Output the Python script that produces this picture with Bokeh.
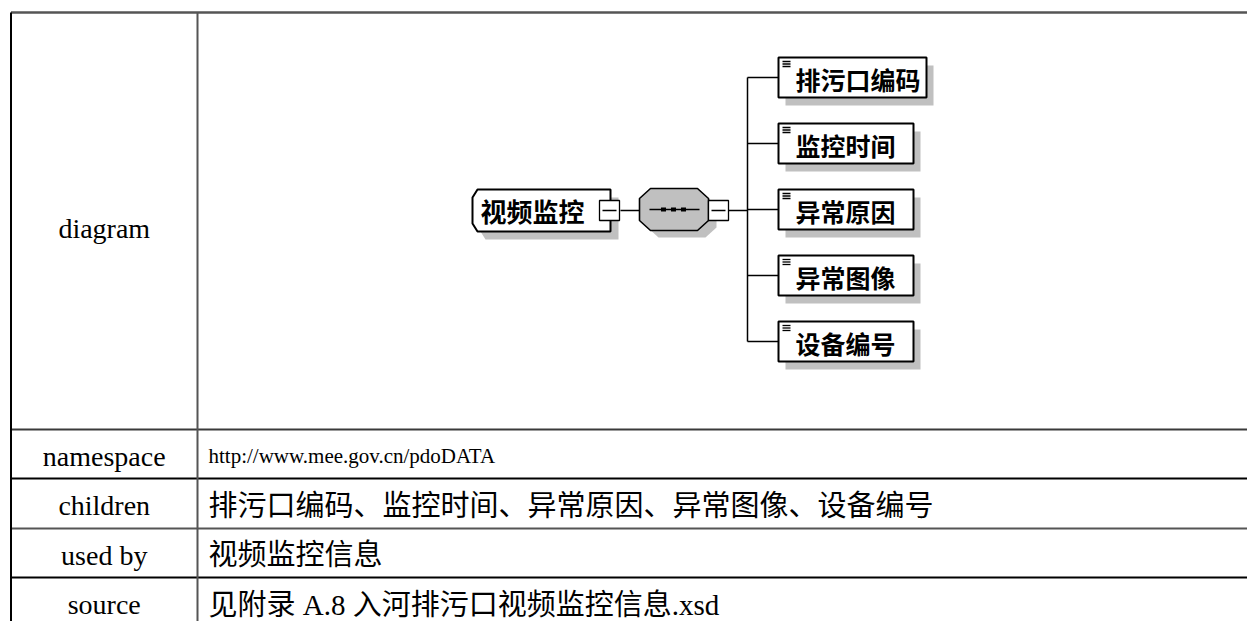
from bokeh.plotting import figure
from bokeh.models import Range1d
from bokeh.core.properties import value
from bokeh.embed import file_html
from bokeh.resources import INLINE

# ---- table content ----
row_labels = ["diagram", "namespace", "children", "used by", "source"]
row_values = ["",
              "http://www.mee.gov.cn/pdoDATA",
              "排污口编码、监控时间、异常原因、异常图像、设备编号",
              "视频监控信息",
              "见附录 A.8 入河排污口视频监控信息.xsd"]
root_element = "视频监控"
child_elements = ["排污口编码", "监控时间", "异常原因", "异常图像", "设备编号"]

# ---- layout ----
W, H = 1247, 621
p = figure(width=W, height=H, output_backend="svg", toolbar_location=None,
           x_range=Range1d(0, W), y_range=Range1d(H, 0),
           x_axis_location=None, y_axis_location=None, min_border=0)
p.grid.visible = False
p.outline_line_color = None
p.background_fill_color = "white"
p.border_fill_color = "white"

table_top = 12
row_lines = [429, 478, 528, 577]
row_line_colors = ["#3a3a3a", "#000000", "#555555", "#000000"]
x_left, x_div, x_end = 10.5, 197, 1260
y_end = 640

# table borders
p.segment(x0=[x_left], y0=[table_top], x1=[x_end], y1=[table_top],
          line_color="#555555", line_width=2.5)
p.segment(x0=[x_left] * len(row_lines), y0=row_lines,
          x1=[x_end] * len(row_lines), y1=row_lines,
          line_color=row_line_colors, line_width=2)
p.segment(x0=[x_left], y0=[table_top], x1=[x_left], y1=[y_end],
          line_color="#000000", line_width=2)
p.segment(x0=[x_div], y0=[table_top], x1=[x_div], y1=[y_end],
          line_color="#555555", line_width=2)

# row text
bounds = [table_top] + row_lines + [row_lines[-1] + 50]
centers = [(bounds[i] + bounds[i + 1]) / 2 + 2 for i in range(len(row_labels))]
centers[0] = 228
p.text(x=[(x_left + x_div) / 2] * len(row_labels), y=centers, text=row_labels,
       text_font=value("Liberation Serif"), text_font_size="28px",
       text_align="center", text_baseline="middle", text_color="#000000")

val_x = 208
# namespace (condensed hyperlink font)
p.text(x=[val_x], y=[centers[1]], text=[row_values[1]],
       text_font=value("Liberation Serif"), text_font_size="21px",
       text_align="left", text_baseline="middle", text_color="#000000")
p.text(x=[val_x] * 3, y=centers[2:], text=row_values[2:],
       text_font=value("Liberation Serif, Noto Sans CJK SC"), text_font_size="29px",
       text_align="left", text_baseline="middle", text_color="#000000")

# ---- diagram ----
SH = "#c0c0c0"
cy = 210
# root element box with bevelled left side
rx0, rx1, ry0, ry1, bx, by = 472, 610, 189, 231, 5, 8
def root_poly(dx=0, dy=0):
    xs = [rx0 + bx, rx1, rx1, rx0 + bx, rx0, rx0]
    ys = [ry0, ry0, ry1, ry1, ry1 - by, ry0 + by]
    return [x + dx for x in xs], [y + dy for y in ys]

sx, sy = root_poly(8, 8)
p.patch(sx, sy, fill_color=SH, line_color=None)
rxs, rys = root_poly()
p.patch(rxs, rys, fill_color="white", line_color="black", line_width=2)
p.text(x=[480], y=[cy], text=[root_element], text_font=value("Noto Sans CJK SC"),
       text_font_style="bold", text_font_size="26px", text_align="left",
       text_baseline="middle", text_color="black")

# sequence compositor (octagon)
ox0, ox1, oy0, oy1, cxo, cyo = 639, 708, 188, 230, 11, 10
def oct_poly(dx=0, dy=0):
    xs = [ox0 + cxo, ox1 - cxo, ox1, ox1, ox1 - cxo, ox0 + cxo, ox0, ox0]
    ys = [oy0, oy0, oy0 + cyo, oy1 - cyo, oy1, oy1, oy1 - cyo, oy0 + cyo]
    return [x + dx for x in xs], [y + dy for y in ys]

sx, sy = oct_poly(8, 7)
p.patch(sx, sy, fill_color=SH, line_color=None)
oxs, oys = oct_poly()
p.patch(oxs, oys, fill_color="#c0c0c0", line_color="black", line_width=1.6)
p.segment(x0=[649], y0=[cy - 1], x1=[699], y1=[cy - 1], line_color="black", line_width=1.5)
p.rect(x=[663, 673, 683], y=[cy - 1] * 3, width=5, height=4,
       fill_color="black", line_color=None)

# connectors and minus boxes
minus_centers = [609, 718]
p.segment(x0=[620, 728], y0=[cy, cy], x1=[639, 747], y1=[cy, cy],
          line_color="black", line_width=1.5)
p.rect(x=minus_centers, y=[cy, cy], width=20, height=20,
       fill_color="white", line_color="black", line_width=1.3)
p.segment(x0=[c - 7 for c in minus_centers], y0=[cy, cy],
          x1=[c + 7 for c in minus_centers], y1=[cy, cy],
          line_color="black", line_width=1.3)

# children
bus_x = 747
box_x0 = 778
first_cy, step, half_h = 77, 66, 20
char_w = 25.6
ccy = [first_cy + i * step for i in range(len(child_elements))]
box_x1 = [box_x0 + max(135, 17 + char_w * len(c) + 3) for c in child_elements]

p.segment(x0=[bus_x], y0=[ccy[0]], x1=[bus_x], y1=[ccy[-1]],
          line_color="black", line_width=1.5)
p.segment(x0=[bus_x] * len(ccy), y0=ccy, x1=[box_x0] * len(ccy), y1=ccy,
          line_color="black", line_width=1.5)
p.quad(left=[box_x0 + 7] * len(ccy), right=[x + 7 for x in box_x1],
       top=[c - half_h + 8 for c in ccy], bottom=[c + half_h + 8 for c in ccy],
       fill_color=SH, line_color=None)
p.quad(left=[box_x0] * len(ccy), right=box_x1,
       top=[c - half_h for c in ccy], bottom=[c + half_h for c in ccy],
       fill_color="white", line_color="black", line_width=2)
# "≡" content icons
icon_y = []
for c in ccy:
    for off in (4, 6.5, 9):
        icon_y.append(c - half_h + off)
p.segment(x0=[box_x0 + 4] * len(icon_y), y0=icon_y,
          x1=[box_x0 + 12] * len(icon_y), y1=icon_y,
          line_color="black", line_width=1.3)
p.text(x=[box_x0 + 17] * len(ccy), y=[c + 1 for c in ccy], text=child_elements,
       text_font=value("Noto Sans CJK SC"), text_font_style="bold",
       text_font_size="25px", text_align="left", text_baseline="middle",
       text_color="black")

open("out.html", "w").write(file_html(p, INLINE))
